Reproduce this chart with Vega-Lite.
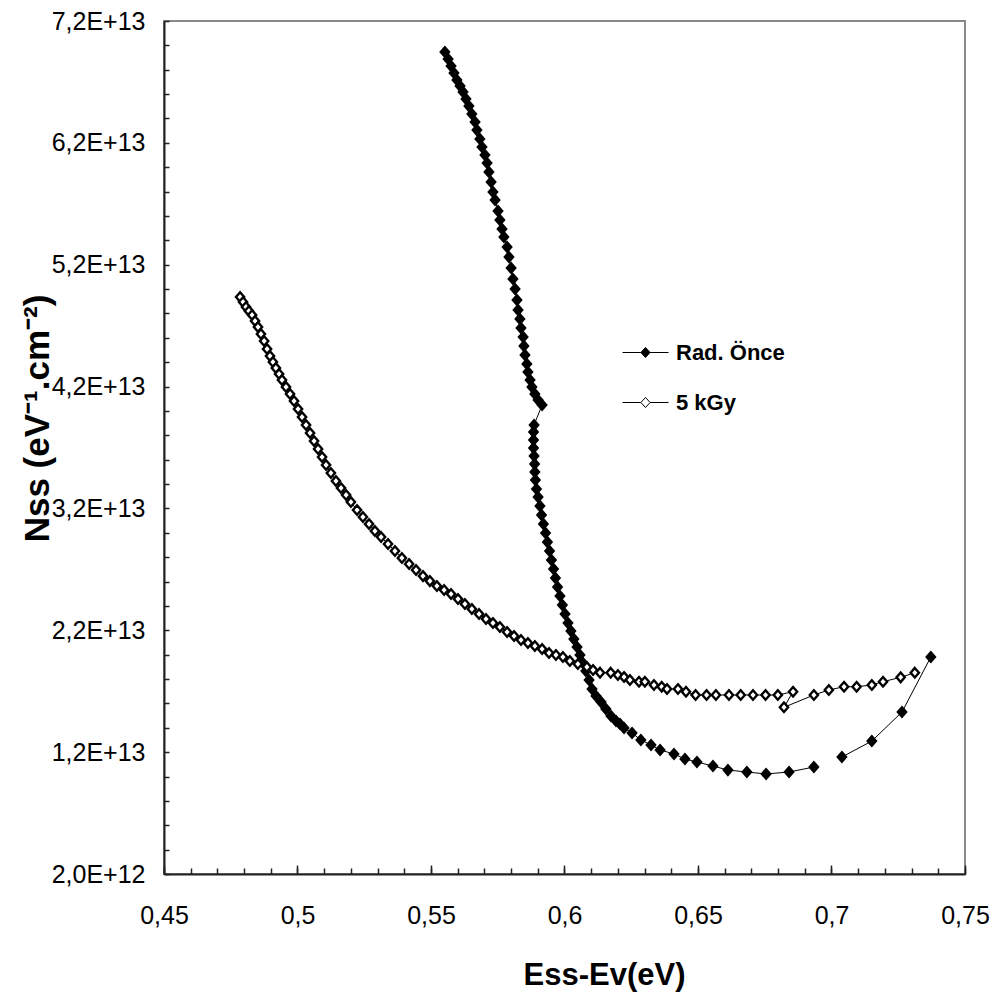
{
  "$schema": "https://vega.github.io/schema/vega-lite/v6.json",
  "width": 801,
  "height": 853,
  "autosize": {"type": "none"},
  "padding": {"left": 164, "top": 21, "right": 33, "bottom": 124},
  "background": "white",
  "config": {"view": {"stroke": "#888888", "strokeWidth": 2}},
  "data": {"values": [
    {"s":"Rad. Önce","g":"A1","i":1,"x":0.5552,"y":6.946e13},
    {"s":"Rad. Önce","g":"A1","i":2,"x":0.5564,"y":6.888e13},
    {"s":"Rad. Önce","g":"A1","i":3,"x":0.5575,"y":6.831e13},
    {"s":"Rad. Önce","g":"A1","i":4,"x":0.5586,"y":6.773e13},
    {"s":"Rad. Önce","g":"A1","i":5,"x":0.5597,"y":6.716e13},
    {"s":"Rad. Önce","g":"A1","i":6,"x":0.5609,"y":6.667e13},
    {"s":"Rad. Önce","g":"A1","i":7,"x":0.5620,"y":6.617e13},
    {"s":"Rad. Önce","g":"A1","i":8,"x":0.5631,"y":6.560e13},
    {"s":"Rad. Önce","g":"A1","i":9,"x":0.5642,"y":6.502e13},
    {"s":"Rad. Önce","g":"A1","i":10,"x":0.5653,"y":6.437e13},
    {"s":"Rad. Önce","g":"A1","i":11,"x":0.5665,"y":6.371e13},
    {"s":"Rad. Önce","g":"A1","i":12,"x":0.5672,"y":6.305e13},
    {"s":"Rad. Önce","g":"A1","i":13,"x":0.5683,"y":6.232e13},
    {"s":"Rad. Önce","g":"A1","i":14,"x":0.5691,"y":6.166e13},
    {"s":"Rad. Önce","g":"A1","i":15,"x":0.5702,"y":6.100e13},
    {"s":"Rad. Önce","g":"A1","i":16,"x":0.5710,"y":6.035e13},
    {"s":"Rad. Önce","g":"A1","i":17,"x":0.5717,"y":5.961e13},
    {"s":"Rad. Önce","g":"A1","i":18,"x":0.5725,"y":5.879e13},
    {"s":"Rad. Önce","g":"A1","i":19,"x":0.5732,"y":5.797e13},
    {"s":"Rad. Önce","g":"A1","i":20,"x":0.5740,"y":5.731e13},
    {"s":"Rad. Önce","g":"A1","i":21,"x":0.5751,"y":5.641e13},
    {"s":"Rad. Önce","g":"A1","i":22,"x":0.5758,"y":5.567e13},
    {"s":"Rad. Önce","g":"A1","i":23,"x":0.5766,"y":5.493e13},
    {"s":"Rad. Önce","g":"A1","i":24,"x":0.5773,"y":5.427e13},
    {"s":"Rad. Önce","g":"A1","i":25,"x":0.5785,"y":5.345e13},
    {"s":"Rad. Önce","g":"A1","i":26,"x":0.5792,"y":5.263e13},
    {"s":"Rad. Önce","g":"A1","i":27,"x":0.5800,"y":5.173e13},
    {"s":"Rad. Önce","g":"A1","i":28,"x":0.5807,"y":5.083e13},
    {"s":"Rad. Önce","g":"A1","i":29,"x":0.5815,"y":5.001e13},
    {"s":"Rad. Önce","g":"A1","i":30,"x":0.5822,"y":4.910e13},
    {"s":"Rad. Önce","g":"A1","i":31,"x":0.5826,"y":4.828e13},
    {"s":"Rad. Önce","g":"A1","i":32,"x":0.5833,"y":4.755e13},
    {"s":"Rad. Önce","g":"A1","i":33,"x":0.5837,"y":4.681e13},
    {"s":"Rad. Önce","g":"A1","i":34,"x":0.5845,"y":4.607e13},
    {"s":"Rad. Önce","g":"A1","i":35,"x":0.5848,"y":4.533e13},
    {"s":"Rad. Önce","g":"A1","i":36,"x":0.5852,"y":4.459e13},
    {"s":"Rad. Önce","g":"A1","i":37,"x":0.5859,"y":4.385e13},
    {"s":"Rad. Önce","g":"A1","i":38,"x":0.5863,"y":4.320e13},
    {"s":"Rad. Önce","g":"A1","i":39,"x":0.5871,"y":4.254e13},
    {"s":"Rad. Önce","g":"A1","i":40,"x":0.5878,"y":4.197e13},
    {"s":"Rad. Önce","g":"A1","i":41,"x":0.5889,"y":4.139e13},
    {"s":"Rad. Önce","g":"A1","i":42,"x":0.5901,"y":4.090e13},
    {"s":"Rad. Önce","g":"A1","i":43,"x":0.5916,"y":4.049e13},
    {"s":"Rad. Önce","g":"A1","i":44,"x":0.5886,"y":3.885e13},
    {"s":"Rad. Önce","g":"A1","i":45,"x":0.5884,"y":3.827e13},
    {"s":"Rad. Önce","g":"A1","i":46,"x":0.5884,"y":3.762e13},
    {"s":"Rad. Önce","g":"A1","i":47,"x":0.5884,"y":3.696e13},
    {"s":"Rad. Önce","g":"A1","i":48,"x":0.5886,"y":3.630e13},
    {"s":"Rad. Önce","g":"A1","i":49,"x":0.5888,"y":3.565e13},
    {"s":"Rad. Önce","g":"A1","i":50,"x":0.5889,"y":3.499e13},
    {"s":"Rad. Önce","g":"A1","i":51,"x":0.5891,"y":3.433e13},
    {"s":"Rad. Önce","g":"A1","i":52,"x":0.5895,"y":3.359e13},
    {"s":"Rad. Önce","g":"A1","i":53,"x":0.5901,"y":3.294e13},
    {"s":"Rad. Önce","g":"A1","i":54,"x":0.5908,"y":3.220e13},
    {"s":"Rad. Önce","g":"A1","i":55,"x":0.5914,"y":3.146e13},
    {"s":"Rad. Önce","g":"A1","i":56,"x":0.5921,"y":3.072e13},
    {"s":"Rad. Önce","g":"A1","i":57,"x":0.5929,"y":2.998e13},
    {"s":"Rad. Önce","g":"A1","i":58,"x":0.5936,"y":2.924e13},
    {"s":"Rad. Önce","g":"A1","i":59,"x":0.5944,"y":2.851e13},
    {"s":"Rad. Önce","g":"A1","i":60,"x":0.5951,"y":2.777e13},
    {"s":"Rad. Önce","g":"A1","i":61,"x":0.5959,"y":2.703e13},
    {"s":"Rad. Önce","g":"A1","i":62,"x":0.5966,"y":2.629e13},
    {"s":"Rad. Önce","g":"A1","i":63,"x":0.5974,"y":2.555e13},
    {"s":"Rad. Önce","g":"A1","i":64,"x":0.5983,"y":2.481e13},
    {"s":"Rad. Önce","g":"A1","i":65,"x":0.5992,"y":2.408e13},
    {"s":"Rad. Önce","g":"A1","i":66,"x":0.6002,"y":2.334e13},
    {"s":"Rad. Önce","g":"A1","i":67,"x":0.6013,"y":2.260e13},
    {"s":"Rad. Önce","g":"A1","i":68,"x":0.6024,"y":2.194e13},
    {"s":"Rad. Önce","g":"A1","i":69,"x":0.6035,"y":2.128e13},
    {"s":"Rad. Önce","g":"A1","i":70,"x":0.6047,"y":2.063e13},
    {"s":"Rad. Önce","g":"A1","i":71,"x":0.6058,"y":1.997e13},
    {"s":"Rad. Önce","g":"A1","i":72,"x":0.6069,"y":1.932e13},
    {"s":"Rad. Önce","g":"A1","i":73,"x":0.6080,"y":1.866e13},
    {"s":"Rad. Önce","g":"A1","i":74,"x":0.6092,"y":1.792e13},
    {"s":"Rad. Önce","g":"A1","i":75,"x":0.6103,"y":1.718e13},
    {"s":"Rad. Önce","g":"A1","i":76,"x":0.6118,"y":1.661e13},
    {"s":"Rad. Önce","g":"A1","i":77,"x":0.6137,"y":1.611e13},
    {"s":"Rad. Önce","g":"A1","i":78,"x":0.6155,"y":1.554e13},
    {"s":"Rad. Önce","g":"A1","i":79,"x":0.6174,"y":1.497e13},
    {"s":"Rad. Önce","g":"A1","i":80,"x":0.6193,"y":1.456e13},
    {"s":"Rad. Önce","g":"A1","i":81,"x":0.6208,"y":1.431e13},
    {"s":"Rad. Önce","g":"A1","i":82,"x":0.6223,"y":1.398e13},
    {"s":"Rad. Önce","g":"A1","i":83,"x":0.6253,"y":1.357e13},
    {"s":"Rad. Önce","g":"A1","i":84,"x":0.6286,"y":1.300e13},
    {"s":"Rad. Önce","g":"A1","i":85,"x":0.6324,"y":1.259e13},
    {"s":"Rad. Önce","g":"A1","i":86,"x":0.6358,"y":1.218e13},
    {"s":"Rad. Önce","g":"A1","i":87,"x":0.6410,"y":1.185e13},
    {"s":"Rad. Önce","g":"A1","i":88,"x":0.6451,"y":1.144e13},
    {"s":"Rad. Önce","g":"A1","i":89,"x":0.6496,"y":1.119e13},
    {"s":"Rad. Önce","g":"A1","i":90,"x":0.6556,"y":1.086e13},
    {"s":"Rad. Önce","g":"A1","i":91,"x":0.6612,"y":1.053e13},
    {"s":"Rad. Önce","g":"A1","i":92,"x":0.6683,"y":1.037e13},
    {"s":"Rad. Önce","g":"A1","i":93,"x":0.6755,"y":1.021e13},
    {"s":"Rad. Önce","g":"A1","i":94,"x":0.6841,"y":1.037e13},
    {"s":"Rad. Önce","g":"A1","i":95,"x":0.6934,"y":1.078e13},
    {"s":"Rad. Önce","g":"A2","i":96,"x":0.7039,"y":1.160e13},
    {"s":"Rad. Önce","g":"A2","i":97,"x":0.7151,"y":1.291e13},
    {"s":"Rad. Önce","g":"A2","i":98,"x":0.7264,"y":1.529e13},
    {"s":"Rad. Önce","g":"A2","i":99,"x":0.7372,"y":1.981e13},
    {"s":"5 kGy","g":"B","i":101,"x":0.4785,"y":4.935e13},
    {"s":"5 kGy","g":"B","i":102,"x":0.4796,"y":4.894e13},
    {"s":"5 kGy","g":"B","i":103,"x":0.4807,"y":4.853e13},
    {"s":"5 kGy","g":"B","i":104,"x":0.4818,"y":4.820e13},
    {"s":"5 kGy","g":"B","i":105,"x":0.4830,"y":4.787e13},
    {"s":"5 kGy","g":"B","i":106,"x":0.4841,"y":4.738e13},
    {"s":"5 kGy","g":"B","i":107,"x":0.4852,"y":4.689e13},
    {"s":"5 kGy","g":"B","i":108,"x":0.4863,"y":4.631e13},
    {"s":"5 kGy","g":"B","i":109,"x":0.4875,"y":4.574e13},
    {"s":"5 kGy","g":"B","i":110,"x":0.4886,"y":4.508e13},
    {"s":"5 kGy","g":"B","i":111,"x":0.4897,"y":4.451e13},
    {"s":"5 kGy","g":"B","i":112,"x":0.4908,"y":4.402e13},
    {"s":"5 kGy","g":"B","i":113,"x":0.4919,"y":4.352e13},
    {"s":"5 kGy","g":"B","i":114,"x":0.4931,"y":4.303e13},
    {"s":"5 kGy","g":"B","i":115,"x":0.4942,"y":4.254e13},
    {"s":"5 kGy","g":"B","i":116,"x":0.4957,"y":4.197e13},
    {"s":"5 kGy","g":"B","i":117,"x":0.4972,"y":4.139e13},
    {"s":"5 kGy","g":"B","i":118,"x":0.4987,"y":4.082e13},
    {"s":"5 kGy","g":"B","i":119,"x":0.5002,"y":4.016e13},
    {"s":"5 kGy","g":"B","i":120,"x":0.5017,"y":3.950e13},
    {"s":"5 kGy","g":"B","i":121,"x":0.5032,"y":3.885e13},
    {"s":"5 kGy","g":"B","i":122,"x":0.5047,"y":3.819e13},
    {"s":"5 kGy","g":"B","i":123,"x":0.5062,"y":3.753e13},
    {"s":"5 kGy","g":"B","i":124,"x":0.5077,"y":3.688e13},
    {"s":"5 kGy","g":"B","i":125,"x":0.5092,"y":3.622e13},
    {"s":"5 kGy","g":"B","i":126,"x":0.5107,"y":3.556e13},
    {"s":"5 kGy","g":"B","i":127,"x":0.5125,"y":3.491e13},
    {"s":"5 kGy","g":"B","i":128,"x":0.5144,"y":3.425e13},
    {"s":"5 kGy","g":"B","i":129,"x":0.5163,"y":3.368e13},
    {"s":"5 kGy","g":"B","i":130,"x":0.5182,"y":3.310e13},
    {"s":"5 kGy","g":"B","i":131,"x":0.5200,"y":3.253e13},
    {"s":"5 kGy","g":"B","i":132,"x":0.5223,"y":3.187e13},
    {"s":"5 kGy","g":"B","i":133,"x":0.5245,"y":3.130e13},
    {"s":"5 kGy","g":"B","i":134,"x":0.5268,"y":3.072e13},
    {"s":"5 kGy","g":"B","i":135,"x":0.5290,"y":3.015e13},
    {"s":"5 kGy","g":"B","i":136,"x":0.5313,"y":2.966e13},
    {"s":"5 kGy","g":"B","i":137,"x":0.5339,"y":2.908e13},
    {"s":"5 kGy","g":"B","i":138,"x":0.5365,"y":2.851e13},
    {"s":"5 kGy","g":"B","i":139,"x":0.5391,"y":2.793e13},
    {"s":"5 kGy","g":"B","i":140,"x":0.5418,"y":2.744e13},
    {"s":"5 kGy","g":"B","i":141,"x":0.5444,"y":2.695e13},
    {"s":"5 kGy","g":"B","i":142,"x":0.5470,"y":2.645e13},
    {"s":"5 kGy","g":"B","i":143,"x":0.5496,"y":2.604e13},
    {"s":"5 kGy","g":"B","i":144,"x":0.5522,"y":2.563e13},
    {"s":"5 kGy","g":"B","i":145,"x":0.5549,"y":2.531e13},
    {"s":"5 kGy","g":"B","i":146,"x":0.5575,"y":2.498e13},
    {"s":"5 kGy","g":"B","i":147,"x":0.5601,"y":2.457e13},
    {"s":"5 kGy","g":"B","i":148,"x":0.5627,"y":2.416e13},
    {"s":"5 kGy","g":"B","i":149,"x":0.5653,"y":2.375e13},
    {"s":"5 kGy","g":"B","i":150,"x":0.5680,"y":2.334e13},
    {"s":"5 kGy","g":"B","i":151,"x":0.5706,"y":2.293e13},
    {"s":"5 kGy","g":"B","i":152,"x":0.5732,"y":2.260e13},
    {"s":"5 kGy","g":"B","i":153,"x":0.5758,"y":2.227e13},
    {"s":"5 kGy","g":"B","i":154,"x":0.5785,"y":2.186e13},
    {"s":"5 kGy","g":"B","i":155,"x":0.5811,"y":2.153e13},
    {"s":"5 kGy","g":"B","i":156,"x":0.5837,"y":2.120e13},
    {"s":"5 kGy","g":"B","i":157,"x":0.5863,"y":2.096e13},
    {"s":"5 kGy","g":"B","i":158,"x":0.5889,"y":2.071e13},
    {"s":"5 kGy","g":"B","i":159,"x":0.5916,"y":2.046e13},
    {"s":"5 kGy","g":"B","i":160,"x":0.5942,"y":2.014e13},
    {"s":"5 kGy","g":"B","i":161,"x":0.5968,"y":1.997e13},
    {"s":"5 kGy","g":"B","i":162,"x":0.5994,"y":1.981e13},
    {"s":"5 kGy","g":"B","i":163,"x":0.6020,"y":1.948e13},
    {"s":"5 kGy","g":"B","i":164,"x":0.6050,"y":1.923e13},
    {"s":"5 kGy","g":"B","i":165,"x":0.6084,"y":1.899e13},
    {"s":"5 kGy","g":"B","i":166,"x":0.6107,"y":1.874e13},
    {"s":"5 kGy","g":"B","i":167,"x":0.6133,"y":1.852e13},
    {"s":"5 kGy","g":"B","i":168,"x":0.6173,"y":1.852e13},
    {"s":"5 kGy","g":"B","i":169,"x":0.6200,"y":1.833e13},
    {"s":"5 kGy","g":"B","i":170,"x":0.6223,"y":1.817e13},
    {"s":"5 kGy","g":"B","i":171,"x":0.6245,"y":1.792e13},
    {"s":"5 kGy","g":"B","i":172,"x":0.6279,"y":1.778e13},
    {"s":"5 kGy","g":"B","i":173,"x":0.6301,"y":1.778e13},
    {"s":"5 kGy","g":"B","i":174,"x":0.6335,"y":1.751e13},
    {"s":"5 kGy","g":"B","i":175,"x":0.6364,"y":1.737e13},
    {"s":"5 kGy","g":"B","i":176,"x":0.6384,"y":1.718e13},
    {"s":"5 kGy","g":"B","i":177,"x":0.6425,"y":1.718e13},
    {"s":"5 kGy","g":"B","i":178,"x":0.6455,"y":1.696e13},
    {"s":"5 kGy","g":"B","i":179,"x":0.6491,"y":1.669e13},
    {"s":"5 kGy","g":"B","i":180,"x":0.6532,"y":1.669e13},
    {"s":"5 kGy","g":"B","i":181,"x":0.6567,"y":1.669e13},
    {"s":"5 kGy","g":"B","i":182,"x":0.6616,"y":1.669e13},
    {"s":"5 kGy","g":"B","i":183,"x":0.6660,"y":1.669e13},
    {"s":"5 kGy","g":"B","i":184,"x":0.6706,"y":1.669e13},
    {"s":"5 kGy","g":"B","i":185,"x":0.6753,"y":1.669e13},
    {"s":"5 kGy","g":"B","i":186,"x":0.6799,"y":1.669e13},
    {"s":"5 kGy","g":"B","i":187,"x":0.6856,"y":1.696e13},
    {"s":"5 kGy","g":"B","i":188,"x":0.6822,"y":1.568e13},
    {"s":"5 kGy","g":"B","i":189,"x":0.6934,"y":1.669e13},
    {"s":"5 kGy","g":"B","i":190,"x":0.6990,"y":1.710e13},
    {"s":"5 kGy","g":"B","i":191,"x":0.7047,"y":1.737e13},
    {"s":"5 kGy","g":"B","i":192,"x":0.7094,"y":1.737e13},
    {"s":"5 kGy","g":"B","i":193,"x":0.7151,"y":1.751e13},
    {"s":"5 kGy","g":"B","i":194,"x":0.7193,"y":1.778e13},
    {"s":"5 kGy","g":"B","i":195,"x":0.7259,"y":1.814e13},
    {"s":"5 kGy","g":"B","i":196,"x":0.7312,"y":1.852e13}
  ]},
  "resolve": {"axis": {"x": "independent", "y": "independent"}},
  "layer": [
    {
      "mark": {"type": "line", "color": "black", "strokeWidth": 1},
      "encoding": {
        "x": {
          "field": "x", "type": "quantitative",
          "scale": {"domain": [0.45, 0.75], "nice": false, "zero": false},
          "axis": {
            "orient": "bottom",
            "values": [0.45, 0.5, 0.55, 0.6, 0.65, 0.7, 0.75],
            "labelExpr": "replace(format(datum.value, '~g'), '.', ',')",
            "grid": false,
            "domainColor": "#222222", "domainWidth": 2,
            "tickColor": "#222222", "tickWidth": 1.5, "tickSize": -9,
            "labelFont": "Liberation Sans, sans-serif",
            "labelFontSize": 25, "labelColor": "black", "labelPadding": 38,
            "labelFlush": false, "labelOverlap": false,
            "title": "Ess-Ev(eV)",
            "titleFont": "Liberation Sans, sans-serif",
            "titleFontSize": 31, "titleFontWeight": "bold", "titleColor": "black",
            "titleX": 440, "titleY": 110, "titleBaseline": "alphabetic", "titleAlign": "center"
          }
        },
        "y": {
          "field": "y", "type": "quantitative",
          "scale": {"domain": [2e12, 7.2e13], "nice": false, "zero": false},
          "axis": {
            "orient": "left",
            "values": [2e12,4e12,6e12,8e12,1e13,1.2e13,1.4e13,1.6e13,1.8e13,2e13,2.2e13,2.4e13,2.6e13,2.8e13,3e13,3.2e13,3.4e13,3.6e13,3.8e13,4e13,4.2e13,4.4e13,4.6e13,4.8e13,5e13,5.2e13,5.4e13,5.6e13,5.8e13,6e13,6.2e13,6.4e13,6.6e13,6.8e13,7e13,7.2e13],
            "labelExpr": "(datum.value - 2e12) % 1e13 == 0 ? replace(replace(format(datum.value, '.1e'), '.', ','), 'e', 'E') : ''",
            "grid": false,
            "domainColor": "#222222", "domainWidth": 2,
            "tickColor": "#222222", "tickWidth": 1.5, "tickSize": -5,
            "labelFont": "Liberation Sans, sans-serif",
            "labelFontSize": 25, "labelColor": "black", "labelPadding": 24,
            "labelFlush": false, "labelOverlap": false,
            "title": "Nss (eV⁻¹.cm⁻²)",
            "titleFont": "Liberation Sans, sans-serif",
            "titleFontSize": 35, "titleFontWeight": "bold", "titleColor": "black",
            "titleAngle": 270, "titleX": -116, "titleY": 397,
            "titleBaseline": "alphabetic", "titleAlign": "center"
          }
        },
        "detail": {"field": "g"},
        "order": {"field": "i", "type": "quantitative"}
      }
    },
    {
      "mark": {
        "type": "point",
        "shape": "M0,-1L0.87,0L0,1L-0.87,0Z",
        "filled": true, "size": 90, "opacity": 1,
        "stroke": "black", "strokeWidth": 2.4
      },
      "encoding": {
        "x": {
          "field": "x", "type": "quantitative",
          "axis": {
            "orient": "bottom",
            "values": [0.45,0.46,0.47,0.48,0.49,0.5,0.51,0.52,0.53,0.54,0.55,0.56,0.57,0.58,0.59,0.6,0.61,0.62,0.63,0.64,0.65,0.66,0.67,0.68,0.69,0.7,0.71,0.72,0.73,0.74,0.75],
            "labels": false, "domain": false, "grid": false, "title": null,
            "tickColor": "#222222", "tickWidth": 1.5, "tickSize": -6
          }
        },
        "y": {"field": "y", "type": "quantitative", "axis": null},
        "fill": {
          "field": "s", "type": "nominal",
          "scale": {"domain": ["Rad. Önce", "5 kGy"], "range": ["black", "white"]},
          "legend": {
            "title": null,
            "orient": "none", "legendX": 458, "legendY": 308,
            "padding": 0, "rowPadding": 15,
            "symbolType": "M-1,0L-0.2,0M0.2,0L1,0M0,-0.22L0.2,0L0,0.22L-0.2,0Z",
            "symbolSize": 2116, "symbolStrokeColor": "black", "symbolStrokeWidth": 1,
            "symbolOpacity": 1, "labelOffset": 7,
            "labelFont": "Liberation Sans, sans-serif", "labelFontSize": 22,
            "labelFontWeight": "bold", "labelColor": "black"
          }
        }
      }
    }
  ]
}
